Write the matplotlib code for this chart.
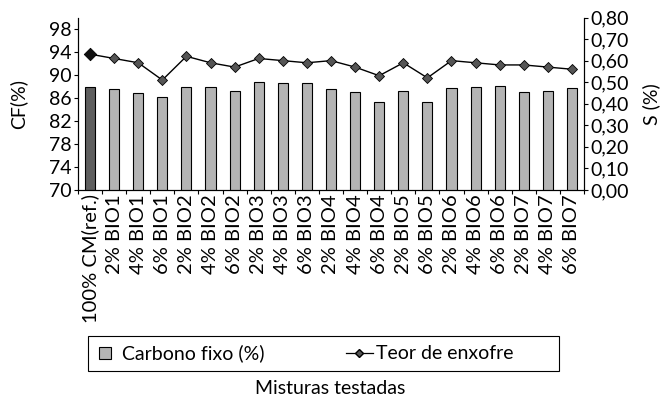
import matplotlib
matplotlib.use("Agg")
import matplotlib.pyplot as plt
import numpy as np
from matplotlib.lines import Line2D
from matplotlib.patches import Rectangle

plt.rcParams['font.family'] = ['Lato', 'DejaVu Sans']

misturas = ["100% CM(ref.)",
            "2% BIO1", "4% BIO1", "6% BIO1",
            "2% BIO2", "4% BIO2", "6% BIO2",
            "2% BIO3", "4% BIO3", "6% BIO3",
            "2% BIO4", "4% BIO4", "6% BIO4",
            "2% BIO5", "6% BIO5",
            "2% BIO6", "4% BIO6", "6% BIO6",
            "2% BIO7", "4% BIO7", "6% BIO7"]
carbono_fixo = [88.0, 87.5, 86.8, 86.1, 88.0, 88.0, 87.3, 88.7, 88.55, 88.55,
                87.5, 87.0, 85.3, 87.2, 85.25, 87.7, 88.0, 88.1, 87.1, 87.3, 87.7]
enxofre = [0.63, 0.61, 0.59, 0.51, 0.62, 0.59, 0.57, 0.61, 0.60, 0.59,
           0.60, 0.57, 0.53, 0.59, 0.52, 0.60, 0.59, 0.58, 0.58, 0.57, 0.56]
cf_ticks = [70, 74, 78, 82, 86, 90, 94, 98]
s_ticks = [0.0, 0.1, 0.2, 0.3, 0.4, 0.5, 0.6, 0.7, 0.8]

FS = 14
W, H = 660, 397

fig = plt.figure(figsize=(W/100, H/100), dpi=100)
ax = fig.add_axes([78/W, 1-190/H, (584-78)/W, (190-17.5)/H])
ax2 = ax.twinx()

x = np.arange(len(misturas))
colors = ["#5e5e5e"] + ["#b4b4b4"] * (len(misturas) - 1)
ax.bar(x, carbono_fixo, width=0.42, bottom=0, color=colors,
       edgecolor="black", linewidth=0.8, zorder=2)
ax.set_ylim(70, 100)
ax.set_xlim(-0.5, len(misturas) - 0.5)
ax.set_yticks(cf_ticks)
ax.set_yticklabels([str(t) for t in cf_ticks], fontsize=FS)
ax.set_ylabel("CF(%)", fontsize=FS)
ax.yaxis.set_label_coords(-(78-27)/506, 0.5)

ax.set_xticks(x)
ax.set_xticklabels(misturas, rotation=90, fontsize=14.5)
ax.set_xticks(np.arange(-0.5, len(misturas)), minor=True)
ax.tick_params(axis='x', which='major', length=0, pad=3)
ax.tick_params(axis='x', which='minor', length=3, width=0.8, direction='out')
ax.tick_params(axis='y', length=3, width=0.8, direction='out', pad=1.5)

ax2.plot(x, enxofre, color="black", linewidth=1.0, zorder=3)
ax2.scatter(x[1:], enxofre[1:], marker="D", s=26, color="#555555",
            edgecolor="black", linewidths=0.6, zorder=4)
ax2.scatter(x[:1], enxofre[:1], marker="D", s=40, color="#111111",
            edgecolor="black", linewidths=0.6, zorder=4)
ax2.set_ylim(0, 0.8)
ax2.set_yticks(s_ticks)
ax2.set_yticklabels([f"{t:.2f}".replace(".", ",") for t in s_ticks], fontsize=FS)
ax2.set_ylabel("S (%)", fontsize=FS, rotation=90)
ax2.yaxis.set_label_coords(1 + (642-584)/506, 0.5)
ax2.tick_params(axis='y', length=3, width=0.8, direction='out', pad=1.5)

for a in (ax, ax2):
    a.spines['top'].set_visible(False)
    for s in a.spines.values():
        s.set_linewidth(0.8)

# legend entries, with a plain rectangular frame drawn around them
handles = [Line2D([0], [0], linestyle="none", marker="s", markersize=9,
                  markerfacecolor="#b4b4b4", markeredgecolor="black",
                  markeredgewidth=0.8),
           Line2D([0], [0], color="black", linewidth=0.9, marker="D",
                  markersize=4, markerfacecolor="#555555", markeredgecolor="black")]
fig.legend(handles, ["Carbono fixo (%)", "Teor de enxofre"], ncol=2,
           loc="center left", bbox_to_anchor=(91.5/W, 1-353.5/H),
           fontsize=FS, frameon=False, handlelength=1.4, handletextpad=0.15,
           columnspacing=4.2, borderpad=0, borderaxespad=0)
fig.add_artist(Rectangle((88/W, 1-371/H), 471/W, 35/H, transform=fig.transFigure,
                         fill=False, edgecolor="black", linewidth=0.8))

fig.text(330/W, 1-388/H, "Misturas testadas", ha="center", va="center", fontsize=FS)

fig.savefig("out.png", dpi=100)
